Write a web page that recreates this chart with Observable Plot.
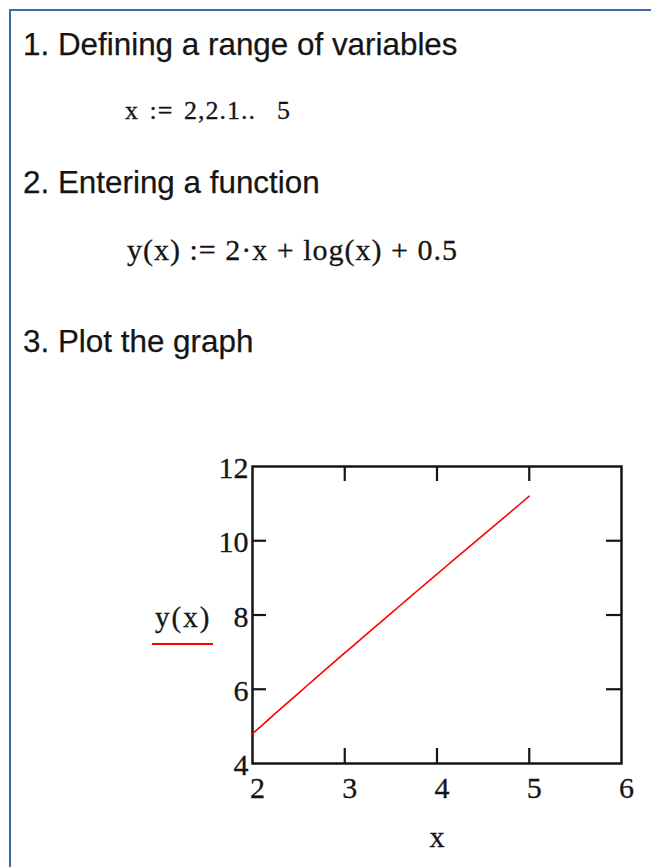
<!DOCTYPE html>
<html>
<head>
<meta charset="utf-8">
<script src="https://cdn.jsdelivr.net/npm/d3@7"></script>
<script src="https://cdn.jsdelivr.net/npm/@observablehq/plot@0.6"></script>
<style>
  html, body { margin: 0; padding: 0; background: #fff; }
  #page { position: relative; width: 651px; height: 867px; overflow: hidden; background: #fff; }
  #chart { position: absolute; left: 0; top: 0; }
  .sheet { position: absolute; left: 9px; top: 9px; right: -10px; bottom: -10px;
           border-top: 2px solid #3f6ba8; border-left: 2px solid #3f6ba8; }
  .head { position: absolute; left: 23px; font-family: "Liberation Sans", Arial, sans-serif;
          font-size: 31.4px; line-height: 31px; color: #151515; white-space: nowrap;
          -webkit-text-stroke: 0.25px #151515; }
  .math { position: absolute; font-family: "Liberation Serif", "Times New Roman", serif;
          color: #151515; white-space: pre; -webkit-text-stroke: 0.3px #151515; }
  .legend { position: absolute; font-family: "Liberation Serif", "Times New Roman", serif;
            font-size: 29px; line-height: 29px; color: #151515; letter-spacing: 2px; white-space: nowrap;
            -webkit-text-stroke: 0.3px #151515; }
  .swatch { position: absolute; height: 2px; }
  #chart svg text { stroke: #151515; stroke-width: 0.3px; }
</style>
</head>
<body>
<div id="page">
  <div id="chart"></div>
  <div class="sheet"></div>
  <div id="h1" class="head" style="top:29px"></div>
  <div id="m1" class="math" style="left:125px; top:98px; font-size:26px; line-height:26px; letter-spacing:1px; word-spacing:3px"></div>
  <div id="h2" class="head" style="top:167px"></div>
  <div id="m2" class="math" style="left:127px; top:235px; font-size:30px; line-height:30px; letter-spacing:1px"></div>
  <div id="h3" class="head" style="top:326px"></div>
  <div id="lg" class="legend" style="left:155px; top:603px"></div>
  <div id="sw" class="swatch" style="left:152px; top:643px; width:61px"></div>
</div>
<script>
// Worksheet text
const headings = ["1. Defining a range of variables", "2. Entering a function", "3. Plot the graph"];
const formulas = ["x := 2,2.1..  5", "y(x) := 2\u00b7x + log(x) + 0.5"];
const traceLabel = "y(x)";
const xLabel = "x";

// Range variable x and the evaluated y(x)
const xs = [2.0, 2.1, 2.2, 2.3, 2.4, 2.5, 2.6, 2.7, 2.8, 2.9, 3.0,
            3.1, 3.2, 3.3, 3.4, 3.5, 3.6, 3.7, 3.8, 3.9, 4.0,
            4.1, 4.2, 4.3, 4.4, 4.5, 4.6, 4.7, 4.8, 4.9, 5.0];
const ys = [4.801, 5.022, 5.242, 5.462, 5.680, 5.898, 6.115, 6.331, 6.547, 6.762, 6.977,
            7.191, 7.405, 7.619, 7.831, 8.044, 8.256, 8.468, 8.680, 8.891, 9.102,
            9.313, 9.523, 9.733, 9.943, 10.153, 10.363, 10.572, 10.781, 10.990, 11.199];

// Axis ticks
const xTicks = [2, 3, 4, 5, 6];
const yTicks = [4, 6, 8, 10, 12];
const xInnerTicks = [3, 4, 5];
const yInnerTicks = [6, 8, 10];

const traceColor = "#ff0000";
const ink = "#151515";

document.getElementById("h1").textContent = headings[0];
document.getElementById("h2").textContent = headings[1];
document.getElementById("h3").textContent = headings[2];
document.getElementById("m1").textContent = formulas[0];
document.getElementById("m2").textContent = formulas[1];
document.getElementById("lg").textContent = traceLabel;
document.getElementById("sw").style.background = traceColor;

const data = xs.map((x, i) => ({x, y: ys[i]}));
const serif = "'Liberation Serif', 'Times New Roman', serif";
const blank = () => "";
const integer = d3.format("d");

const chart = Plot.plot({
  width: 651,
  height: 867,
  marginLeft: 252,
  marginRight: 30,
  marginTop: 466,
  marginBottom: 104,
  style: {background: "transparent", color: ink, fontFamily: serif},
  x: {domain: [2, 6]},
  y: {domain: [4, 12]},
  marks: [
    // tick labels
    Plot.axisX({ticks: xTicks, tickFormat: integer, tickSize: 0, tickPadding: 13, fontSize: 30, dx: 5,
                label: xLabel, labelAnchor: "center", labelOffset: 83, labelArrow: "none"}),
    Plot.axisY({ticks: yTicks, tickFormat: integer, tickSize: 0, tickPadding: 4, fontSize: 30, dy: 2, label: null}),
    // inward ticks on all four sides
    Plot.axisX({anchor: "bottom", ticks: xInnerTicks, tickSize: -15, tickFormat: blank, label: null, strokeWidth: 2.2}),
    Plot.axisX({anchor: "top", ticks: xInnerTicks, tickSize: -14, tickFormat: blank, label: null, strokeWidth: 2.2}),
    Plot.axisY({anchor: "left", ticks: yInnerTicks, tickSize: -14, tickFormat: blank, label: null, strokeWidth: 2.2}),
    Plot.axisY({anchor: "right", ticks: yInnerTicks, tickSize: -16, tickFormat: blank, label: null, strokeWidth: 2.2}),
    Plot.frame({stroke: ink, strokeWidth: 2.5}),
    Plot.line(data, {x: "x", y: "y", stroke: traceColor, strokeWidth: 1.6})
  ]
});
document.getElementById("chart").appendChild(chart);
</script>
</body>
</html>
